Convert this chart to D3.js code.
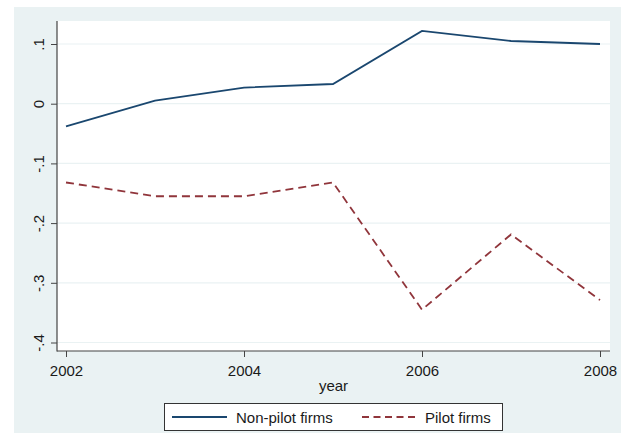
<!DOCTYPE html>
<html>
<head>
<meta charset="utf-8">
<script src="https://cdn.jsdelivr.net/npm/d3@7"></script>
<style>
  html, body { margin: 0; padding: 0; background: #ffffff; }
  svg { display: block; font-family: "Liberation Sans", Arial, Helvetica, sans-serif; }
</style>
</head>
<body>
<svg id="chart" width="621" height="433"></svg>
<script>
// Yearly coefficients for the two groups of firms
const years = [2002, 2003, 2004, 2005, 2006, 2007, 2008];
const nonPilot = [-0.038, 0.005, 0.027, 0.033, 0.122, 0.105, 0.100];
const pilot = [-0.132, -0.155, -0.155, -0.132, -0.345, -0.219, -0.329];
const yTicks = [-0.4, -0.3, -0.2, -0.1, 0, 0.1];
const yTickLabels = ["-.4", "-.3", "-.2", "-.1", "0", ".1"];
const xTicks = [2002, 2004, 2006, 2008];
const seriesNames = ["Non-pilot firms", "Pilot firms"];
const xTitle = "year";

const svg = d3.select("#chart");
const W = 621, H = 433;

// graph background and plot region
const region = { left: 57, right: 610, top: 21, bottom: 351 };
svg.append("rect").attr("x", 14).attr("y", 7).attr("width", W - 14).attr("height", H - 7)
  .attr("fill", "#eaf2f3");
svg.append("rect").attr("x", region.left).attr("y", region.top)
  .attr("width", region.right - region.left).attr("height", region.bottom - region.top)
  .attr("fill", "#ffffff");

const x = d3.scaleLinear().domain([2002, 2008]).range([66, 600]);
const y = d3.scaleLinear().domain([-0.4, 0.1]).range([342.5, 44]);

// horizontal grid lines
svg.append("g").selectAll("line").data(yTicks).join("line")
  .attr("x1", region.left).attr("x2", region.right)
  .attr("y1", d => y(d)).attr("y2", d => y(d))
  .attr("stroke", "#eaf2f3").attr("stroke-width", 1.2);

// y axis
const yAxis = d3.axisLeft(y).tickValues(yTicks).tickSize(6).tickPadding(0)
  .tickFormat((d, i) => yTickLabels[i]);
const gy = svg.append("g").attr("transform", `translate(${region.left},0)`).call(yAxis);
gy.select(".domain").remove();
gy.selectAll(".tick line").attr("stroke", "#444").attr("stroke-width", 1);
gy.selectAll(".tick text")
  .attr("x", null).attr("dy", null)
  .attr("transform", `translate(${43.5 - region.left},0) rotate(-90)`)
  .attr("text-anchor", "middle")
  .attr("fill", "#1a1a1a").style("font-size", "15px");

// x axis
const xAxis = d3.axisBottom(x).tickValues(xTicks).tickSize(6).tickPadding(8)
  .tickFormat(d => String(d));
const gx = svg.append("g").attr("transform", `translate(0,${region.bottom})`).call(xAxis);
gx.select(".domain").remove();
gx.selectAll(".tick line").attr("stroke", "#444").attr("stroke-width", 1);
gx.selectAll(".tick text").attr("fill", "#1a1a1a").style("font-size", "15px");

// axis lines along the plot region edges
svg.append("line").attr("x1", region.left).attr("x2", region.left)
  .attr("y1", region.top).attr("y2", region.bottom + 0.5)
  .attr("stroke", "#444").attr("stroke-width", 1.2);
svg.append("line").attr("x1", region.left).attr("x2", region.right)
  .attr("y1", region.bottom).attr("y2", region.bottom)
  .attr("stroke", "#444").attr("stroke-width", 1.2);

svg.append("text").attr("x", (region.left + region.right) / 2).attr("y", 391)
  .attr("text-anchor", "middle").attr("fill", "#1a1a1a").style("font-size", "15px")
  .text(xTitle);

// series lines
const line = d3.line().x((d, i) => x(years[i])).y(d => y(d));
const styles = [
  { color: "#1a476f", dash: null },
  { color: "#90353b", dash: "8,5" }
];
[nonPilot, pilot].forEach((vals, k) => {
  svg.append("path").datum(vals).attr("d", line)
    .attr("fill", "none").attr("stroke", styles[k].color).attr("stroke-width", 1.8)
    .attr("stroke-dasharray", styles[k].dash)
    .attr("stroke-linejoin", "miter");
});

// legend
const lg = svg.append("g");
lg.append("rect").attr("x", 164.5).attr("y", 403.5).attr("width", 338).attr("height", 27)
  .attr("fill", "#ffffff").attr("stroke", "#333").attr("stroke-width", 1);
const legendItems = [
  { x0: 172, x1: 227, tx: 236 },
  { x0: 362, x1: 416, tx: 425 }
];
legendItems.forEach((it, k) => {
  lg.append("line").attr("x1", it.x0).attr("x2", it.x1).attr("y1", 417).attr("y2", 417)
    .attr("stroke", styles[k].color).attr("stroke-width", 1.8)
    .attr("stroke-dasharray", k === 1 ? "7,4.5" : null);
  lg.append("text").attr("x", it.tx).attr("y", 422.5)
    .attr("fill", "#1a1a1a").style("font-size", "15px").text(seriesNames[k]);
});
</script>
</body>
</html>
